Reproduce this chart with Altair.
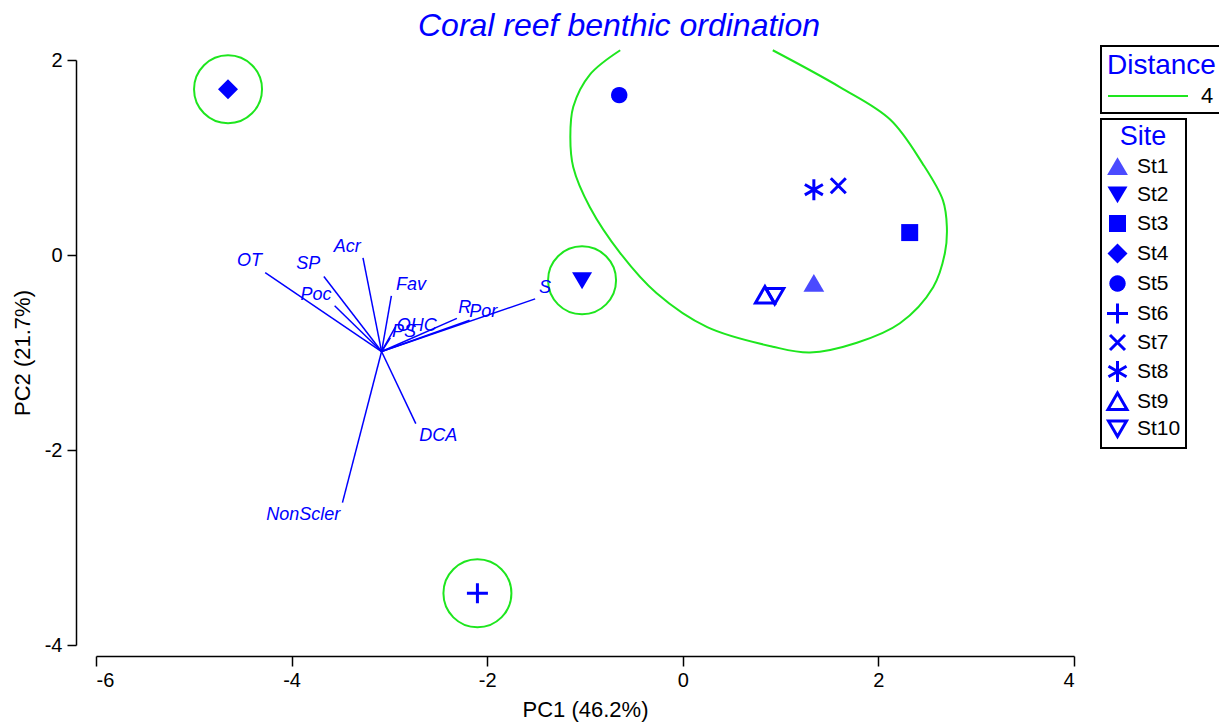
import altair as alt
import numpy as np
import pandas as pd

FONT = "Liberation Sans"
BLUE = "#0000ff"
GREEN = "#1ee61e"

# ---- site scores (PC1, PC2) ----
sites = ["St1", "St2", "St3", "St4", "St5", "St6", "St7", "St8", "St9", "St10"]
pc1 = [1.34, -1.03, 2.32, -4.65, -0.65, -2.10, 1.59, 1.34, 0.84, 0.94]
pc2 = [-0.29, -0.26, 0.23, 1.70, 1.64, -3.47, 0.71, 0.67, -0.41, -0.42]
# cluster membership at distance 4
cluster = ["A", "B", "A", "C", "A", "D", "A", "A", "A", "A"]

# ---- variable vectors ----
var_names = ["OT", "SP", "Acr", "Poc", "Fav", "OHC", "PS", "R", "Por", "S", "DCA", "NonScler"]
vec_x = [-4.27, -3.67, -3.27, -3.56, -2.98, -2.94, -2.99, -2.31, -2.18, -1.51, -2.73, -3.48]
vec_y = [-0.18, -0.22, -0.03, -0.52, -0.42, -0.74, -0.85, -0.65, -0.67, -0.45, -1.73, -2.54]
lab_x = [-4.43, -3.83, -3.43, -3.75, -2.78, -2.72, -2.85, -2.23, -2.04, -1.41, -2.50, -3.88]
lab_y = [-0.06, -0.09, 0.08, -0.41, -0.31, -0.73, -0.79, -0.54, -0.58, -0.34, -1.86, -2.67]
vec_origin = (-3.08, -0.99)

# ---- outline of the large cluster (clipped at the top of the frame) ----
contour_x = [-0.64, -0.95, -1.12, -1.15, -1.12, -0.95, -0.64, -0.27, 0.25, 0.92, 1.30,
             1.78, 2.22, 2.56, 2.68, 2.70, 2.66, 2.45, 2.12, 1.61, 0.92]
contour_y = [2.10, 1.85, 1.52, 1.21, 0.90, 0.49, 0.02, -0.39, -0.74, -0.94, -1.00,
             -0.90, -0.70, -0.33, 0.02, 0.29, 0.56, 0.94, 1.39, 1.72, 2.10]

# marker outlines in unit coordinates
circ = " ".join(
    ("M" if k == 0 else "L") + f"{0.82*np.cos(a):.3f},{0.82*np.sin(a):.3f}"
    for k, a in enumerate(np.linspace(0, 2 * np.pi, 25)[:-1])
) + "Z"
shape_paths = [
    "M0,-0.92L1.04,0.85L-1.04,0.85Z",
    "M0,0.88L1.0,-0.8L-1.0,-0.8Z",
    "M-0.85,-0.85L0.85,-0.85L0.85,0.85L-0.85,0.85Z",
    "M0,-1L1,0L0,1L-1,0Z",
    circ,
    "M-1.05,0L1.05,0M0,-1L0,1",
    "M-0.75,-0.75L0.75,0.75M-0.75,0.75L0.75,-0.75",
    "M0,-1.05L0,1.05M-0.9,-0.52L0.9,0.52M-0.9,0.52L0.9,-0.52",
    "M0,-0.85L0.95,0.8L-0.95,0.8Z",
    "M0,0.8L0.9,-0.75L-0.9,-0.75Z",
]
fills = ["#4a4aff", BLUE, BLUE, BLUE, BLUE] + ["transparent"] * 5
strokes = ["transparent"] * 5 + [BLUE] * 5

site_df = pd.DataFrame({"site": sites, "x": pc1, "y": pc2, "cluster": cluster})
counts = site_df["cluster"].value_counts()
single_df = site_df[site_df["cluster"].map(counts) == 1].copy()
single_df["dist"] = "4"

ell_df = pd.DataFrame({"x": contour_x, "y": contour_y, "i": range(len(contour_x))})
ell_df["dist"] = "4"

vec_df = pd.DataFrame({
    "name": var_names, "x2": vec_x, "y2": vec_y,
    "lx": lab_x, "ly": lab_y,
    "x0": [vec_origin[0]] * len(var_names), "y0": [vec_origin[1]] * len(var_names),
})

xscale = alt.Scale(domain=[-6, 4], nice=False, zero=False)
yscale = alt.Scale(domain=[-4, 2], nice=False, zero=False)
xaxis = alt.Axis(values=[-6, -4, -2, 0, 2, 4], offset=11, tickSize=10, labelPadding=4,
                 titlePadding=9, title="PC1 (46.2%)", labelExpr="'' + datum.value")
yaxis = alt.Axis(values=[-4, -2, 0, 2], offset=20, tickSize=9, labelPadding=5,
                 titlePadding=10, title="PC2 (21.7%)", labelExpr="'' + datum.value")

dist_scale = alt.Scale(domain=["4"], range=[GREEN])
dist_legend = alt.Legend(
    title="Distance", orient="none", legendX=1005, legendY=-14,
    symbolType="stroke", symbolSize=6400, symbolStrokeWidth=2, clipHeight=20,
    labelOffset=12, padding=6, strokeColor="black", titleFontSize=28,
    titleColor=BLUE, titleAnchor="start", labelFontSize=22, titlePadding=6,
)

circles = alt.Chart(single_df).mark_point(
    shape="circle", size=4624, strokeWidth=2, filled=False, opacity=1
).encode(
    x=alt.X("x:Q", scale=xscale, axis=xaxis),
    y=alt.Y("y:Q", scale=yscale, axis=yaxis),
    color=alt.Color("dist:N", scale=dist_scale, legend=dist_legend),
)

ellipse = alt.Chart(ell_df).mark_line(strokeWidth=2, opacity=1, interpolate="catmull-rom").encode(
    x="x:Q", y="y:Q", order="i:Q",
    color=alt.Color("dist:N", scale=dist_scale, legend=dist_legend),
)

vectors = alt.Chart(vec_df).mark_rule(color=BLUE, strokeWidth=1.5).encode(
    x="x0:Q", y="y0:Q", x2="x2:Q", y2="y2:Q",
)

labels = alt.Chart(vec_df).mark_text(
    font=FONT, fontSize=18, fontStyle="italic", color=BLUE, align="center", baseline="middle"
).encode(x="lx:Q", y="ly:Q", text="name:N")

site_legend = alt.Legend(
    title="Site", orient="none", legendX=1005, legendY=59,
    padding=5, strokeColor="black", titleFontSize=27, titleColor=BLUE,
    titleAnchor="middle", labelFontSize=21, labelColor="black", labelOffset=8,
    symbolSize=400, symbolStrokeWidth=3, rowPadding=-1, titlePadding=4,
)

points = alt.Chart(site_df).mark_point(size=400, strokeWidth=3, opacity=1).encode(
    x="x:Q", y="y:Q",
    shape=alt.Shape("site:N", scale=alt.Scale(domain=sites, range=shape_paths), legend=site_legend),
    fill=alt.Fill("site:N", scale=alt.Scale(domain=sites, range=fills), legend=site_legend),
    stroke=alt.Stroke("site:N", scale=alt.Scale(domain=sites, range=strokes), legend=site_legend),
)

chart = alt.layer(circles, ellipse, vectors, labels, points).properties(
    width=978, height=585,
    title=alt.TitleParams(
        "Coral reef benthic ordination", font=FONT, fontSize=32, fontStyle="italic",
        fontWeight="normal", color=BLUE, anchor="middle", frame="group", dx=34,
        offset=10, dy=33, baseline="alphabetic",
    ),
    autosize=alt.AutoSizeParams(type="none"),
    padding={"left": 88, "top": 52, "right": 145, "bottom": 77},
).configure_view(strokeWidth=0).configure_axis(
    grid=False, domainColor="black", domainWidth=1.5, tickColor="black", tickWidth=1.5,
    labelFont=FONT, labelFontSize=20, labelColor="black",
    titleFont=FONT, titleFontSize=22, titleFontWeight="normal", titleColor="black",
).configure_legend(
    strokeWidth=2, labelFont=FONT, titleFont=FONT, titleFontWeight="normal",
)

chart.save("out.html", embed_options={"renderer": "svg", "actions": False})
